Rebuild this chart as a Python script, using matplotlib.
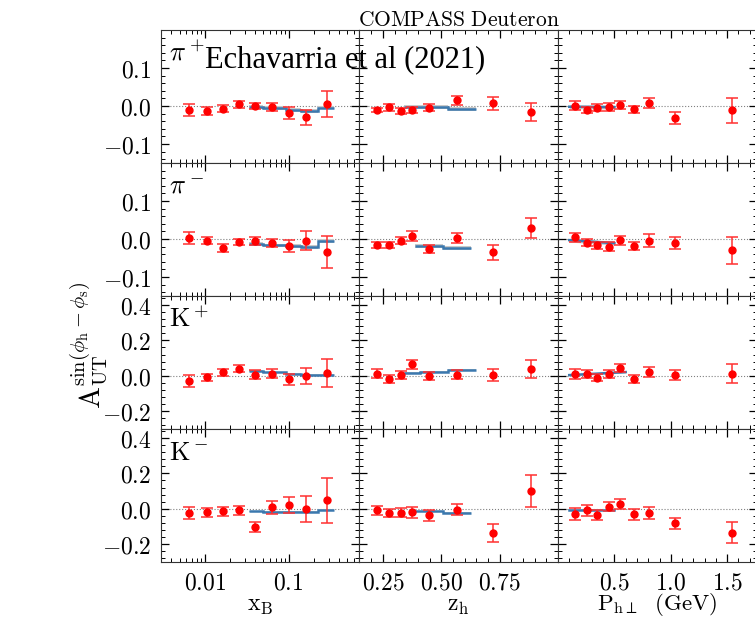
import matplotlib
matplotlib.use('Agg')
import matplotlib.pyplot as plt
import numpy as np
from matplotlib.ticker import FuncFormatter, MultipleLocator, FixedLocator

plt.rcParams['mathtext.fontset'] = 'cm'

# --- data ---
xB = [0.0064, 0.0105, 0.0163, 0.0253, 0.040, 0.063, 0.101, 0.163, 0.288]
zh = [0.225, 0.276, 0.326, 0.375, 0.448, 0.569, 0.723, 0.885]
Ph = [0.153, 0.253, 0.35, 0.45, 0.55, 0.67, 0.81, 1.04, 1.545]

hadrons = [r'$\pi^+$', r'$\pi^-$', r'$\mathrm{K}^+$', r'$\mathrm{K}^-$']

# asymmetries and errors, one list per hadron
A_x = [[-0.010, -0.013, -0.007, 0.004, -0.001, -0.002, -0.018, -0.030, 0.005],
       [0.003, -0.004, -0.024, -0.008, -0.005, -0.010, -0.018, -0.004, -0.035],
       [-0.028, -0.009, 0.019, 0.041, 0.007, 0.013, -0.019, 0.000, 0.015],
       [-0.026, -0.019, -0.015, -0.009, -0.103, 0.009, 0.021, 0.000, 0.047]]
E_x = [[0.016, 0.011, 0.010, 0.008, 0.008, 0.011, 0.015, 0.020, 0.034],
       [0.016, 0.010, 0.010, 0.009, 0.010, 0.011, 0.015, 0.024, 0.042],
       [0.033, 0.020, 0.021, 0.020, 0.023, 0.026, 0.032, 0.046, 0.077],
       [0.034, 0.025, 0.023, 0.024, 0.029, 0.036, 0.044, 0.074, 0.129]]

A_z = [[-0.010, -0.003, -0.012, -0.011, -0.004, 0.015, 0.007, -0.015],
       [-0.015, -0.015, -0.004, 0.008, -0.026, 0.002, -0.035, 0.029],
       [0.013, -0.019, 0.004, 0.064, -0.002, 0.007, 0.004, 0.039],
       [-0.009, -0.022, -0.022, -0.019, -0.036, -0.004, -0.135, 0.099]]
E_z = [[0.006, 0.009, 0.008, 0.008, 0.010, 0.012, 0.017, 0.024],
       [0.008, 0.008, 0.010, 0.012, 0.0115, 0.013, 0.019, 0.026],
       [0.024, 0.022, 0.022, 0.023, 0.0215, 0.023, 0.033, 0.050],
       [0.027, 0.023, 0.025, 0.032, 0.031, 0.031, 0.052, 0.089]]

A_P = [[0.001, -0.010, -0.005, -0.003, 0.002, -0.009, 0.009, -0.032, -0.011],
       [0.005, -0.010, -0.017, -0.020, -0.003, -0.019, -0.004, -0.011, -0.030],
       [0.011, 0.011, -0.011, 0.011, 0.043, -0.017, 0.021, 0.006, 0.013],
       [-0.028, -0.009, -0.036, 0.013, 0.028, -0.030, -0.024, -0.082, -0.135]]
E_P = [[0.012, 0.008, 0.009, 0.010, 0.010, 0.010, 0.013, 0.016, 0.033],
       [0.012, 0.009, 0.0097, 0.011, 0.012, 0.011, 0.016, 0.016, 0.035],
       [0.028, 0.022, 0.020, 0.023, 0.023, 0.0215, 0.028, 0.027, 0.051],
       [0.035, 0.030, 0.028, 0.024, 0.027, 0.031, 0.036, 0.032, 0.058]]

# theory (Echavarria et al 2021) as step bins
th_x_edges = [0.034, 0.050, 0.092, 0.140, 0.222, 0.351]
th_x = [[-0.003, -0.006, -0.010, -0.014, -0.004],
        [-0.012, -0.017, -0.019, -0.020, -0.006],
        [0.026, 0.019, 0.009, 0.004, 0.006],
        [-0.015, -0.020, -0.020, -0.017, -0.006]]
th_z_edges = [[0.34, 0.53, 0.65],
              [0.386, 0.506, 0.628],
              [0.34, 0.41, 0.53, 0.65],
              [0.386, 0.506, 0.628]]
th_z = [[-0.003, -0.007],
        [-0.018, -0.023],
        [0.017, 0.024, 0.034],
        [-0.015, -0.024]]
th_P_x = [[0.1, 0.5], [0.1, 0.5], [0.1, 0.6], [0.1, 0.5]]
th_P = [[-0.002, -0.003], [-0.003, -0.011], [0.004, 0.021], [-0.006, -0.006]]
band = 0.005

fig, axes = plt.subplots(4, 3, figsize=(7.55, 6.17), dpi=100)
fig.subplots_adjust(left=0.2132, right=1.002, top=0.9514, bottom=0.0891,
                    wspace=0, hspace=0)


def mtext(v, pos, fmt):
    return r'$' + fmt.format(v) + r'$'


for i in range(4):
    for j in range(3):
        ax = axes[i, j]
        if j == 0:
            x, A, E = xB, A_x[i], E_x[i]
            ax.set_xscale('log')
            ax.stairs(np.array(th_x[i]) + band, th_x_edges,
                      baseline=np.array(th_x[i]) - band, fill=True, color='#c9c9c9', zorder=2)
            ax.stairs(th_x[i], th_x_edges, baseline=None, color='#3b78ae', lw=1.8, zorder=3)
        elif j == 1:
            x, A, E = zh, A_z[i], E_z[i]
            ax.stairs(np.array(th_z[i]) + band, th_z_edges[i],
                      baseline=np.array(th_z[i]) - band, fill=True, color='#c9c9c9', zorder=2)
            ax.stairs(th_z[i], th_z_edges[i], baseline=None, color='#3b78ae', lw=1.8, zorder=3)
        else:
            x, A, E = Ph, A_P[i], E_P[i]
            ax.fill_between(th_P_x[i], np.array(th_P[i]) - band, np.array(th_P[i]) + band,
                            color='#c9c9c9', lw=0, zorder=2)
            ax.plot(th_P_x[i], th_P[i], color='#3b78ae', lw=1.8, zorder=3)

        ax.axhline(0, color='gray', ls=':', lw=0.8, zorder=1)
        ax.errorbar(x, A, yerr=E, fmt='o', color='red', ms=5, ecolor='#ff3030',
                    elinewidth=1.1, capsize=4, capthick=1.1, zorder=4)

        # axis ranges and ticks
        if i < 2:
            ax.set_ylim(-0.15, 0.2)
            ax.yaxis.set_major_locator(FixedLocator([-0.1, 0.0, 0.1]))
            ax.yaxis.set_minor_locator(MultipleLocator(0.02))
        else:
            ax.set_ylim(-0.3, 0.45)
            ax.yaxis.set_major_locator(FixedLocator([-0.2, 0.0, 0.2, 0.4]))
            ax.yaxis.set_minor_locator(MultipleLocator(0.04))
        if j == 0:
            ax.set_xlim(0.003, 0.7)
            ax.xaxis.set_major_locator(FixedLocator([0.01, 0.1]))
            ax.xaxis.set_major_formatter(FuncFormatter(lambda v, p: r'$0.01$' if v < 0.05 else r'$0.1$'))
        elif j == 1:
            ax.set_xlim(0.15, 1.0)
            ax.xaxis.set_major_locator(FixedLocator([0.25, 0.5, 0.75]))
            ax.xaxis.set_minor_locator(MultipleLocator(0.05))
            ax.xaxis.set_major_formatter(FuncFormatter(lambda v, p: mtext(v, p, '{:.2f}')))
        else:
            ax.set_xlim(0.0, 1.76)
            ax.xaxis.set_major_locator(FixedLocator([0.5, 1.0, 1.5]))
            ax.xaxis.set_minor_locator(MultipleLocator(0.1))
            ax.xaxis.set_major_formatter(FuncFormatter(lambda v, p: mtext(v, p, '{:.1f}')))
        ax.yaxis.set_major_formatter(FuncFormatter(lambda v, p: mtext(v, p, '{:.1f}')))

        ax.tick_params(which='both', direction='in', top=True, right=True,
                       labelsize=17, pad=7)
        ax.tick_params(axis='x', which='both', pad=6)
        ax.tick_params(which='major', length=6, width=0.9)
        ax.tick_params(which='minor', length=3, width=0.7)
        if j > 0:
            ax.tick_params(labelleft=False)
        if i < 3:
            ax.tick_params(labelbottom=False)
        for s in ax.spines.values():
            s.set_color('#333333')

    axes[i, 0].text(0.04, 0.92, hadrons[i], transform=axes[i, 0].transAxes,
                    fontsize=19, va='top', ha='left')

# label of the theory curve, drawn on the figure so the next panel does not hide it
fig.text(205 / 755, 1 - 67 / 617, 'Echavarria et al (2021)',
         fontsize=22, family='Liberation Serif', va='baseline', ha='left')
axes[0, 1].set_title(r'$\mathrm{COMPASS\ Deuteron}$', fontsize=15.5, pad=3)

axes[3, 0].set_xlabel(r'$\mathrm{x_B}$', fontsize=17, labelpad=-1)
axes[3, 1].set_xlabel(r'$\mathrm{z_h}$', fontsize=17, labelpad=-1)
axes[3, 2].set_xlabel(r'$\mathrm{P_{h\perp}\ \ (GeV)}$', fontsize=16.5, labelpad=-2.5)
fig.text(0.118, 0.44, r'$\mathrm{A_{UT}^{\sin(\phi_h-\phi_s)}}$', rotation=90,
         fontsize=21, ha='center', va='center')

plt.savefig('out.png', dpi=100)
